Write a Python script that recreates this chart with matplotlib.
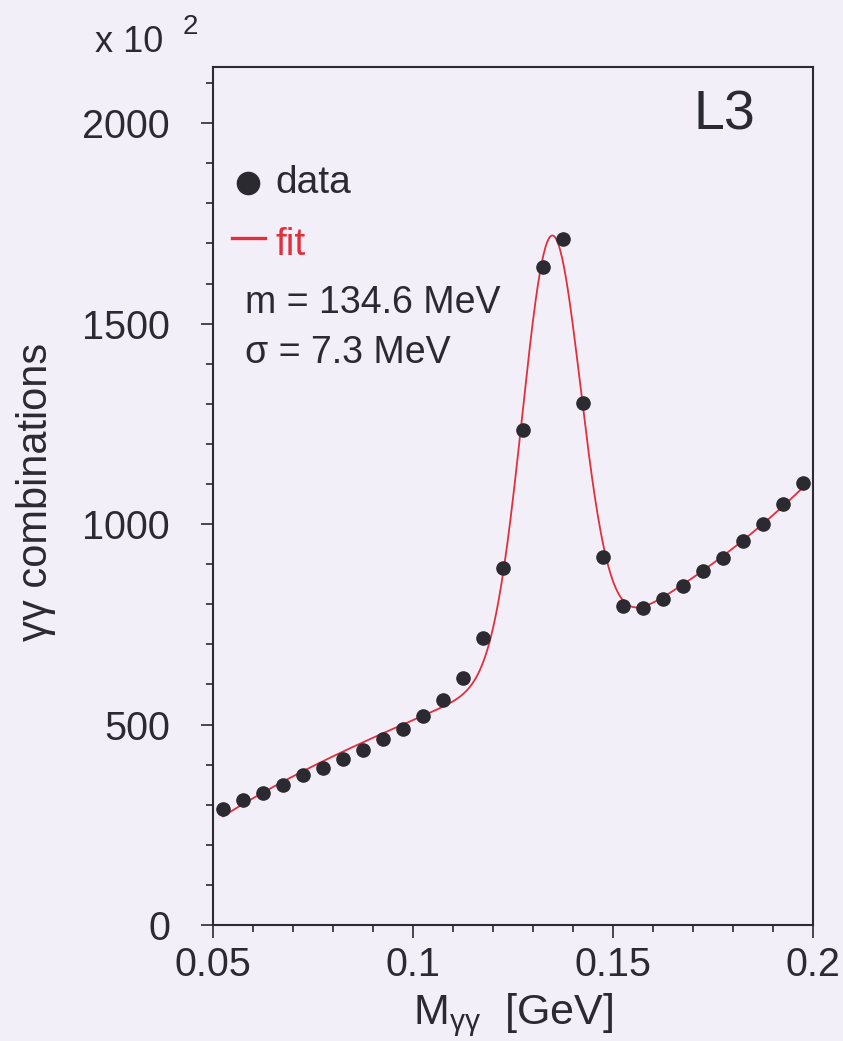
import numpy as np
import matplotlib
matplotlib.use("Agg")
import matplotlib.pyplot as plt
from matplotlib.lines import Line2D
from matplotlib.ticker import MultipleLocator, FixedLocator, FixedFormatter

# Diphoton invariant mass spectrum (5 MeV bins), counts in units of 10^2
mass_gev = [0.0525, 0.0575, 0.0625, 0.0675, 0.0725, 0.0775, 0.0825, 0.0875,
            0.0925, 0.0975, 0.1025, 0.1075, 0.1125, 0.1175, 0.1225, 0.1275,
            0.1325, 0.1375, 0.1425, 0.1475, 0.1525, 0.1575, 0.1625, 0.1675,
            0.1725, 0.1775, 0.1825, 0.1875, 0.1925, 0.1975]
counts = [290, 312, 330, 348, 375, 392, 415, 437, 465, 490,
          522, 562, 617, 717, 890, 1235, 1640, 1710, 1302, 918,
          795, 790, 812, 845, 882, 915, 957, 1000, 1050, 1102]

# Fitted peak parameters (GeV)
peak_mass = 0.1346
peak_sigma = 0.0073

x_ticks = [0.05, 0.1, 0.15, 0.2]
x_tick_labels = ["0.05", "0.1", "0.15", "0.2"]
y_ticks = [0, 500, 1000, 1500, 2000]
y_tick_labels = ["0", "500", "1000", "1500", "2000"]

FONT = "Liberation Sans"
BG = "#f3eff9"
INK = "#2b2a30"
RED = "#e0303c"

plt.rcParams["font.family"] = [FONT, "DejaVu Sans"]
plt.rcParams["mathtext.fontset"] = "custom"
plt.rcParams["mathtext.rm"] = FONT

W, H = 843, 1041
fig = plt.figure(figsize=(W / 100, H / 100), dpi=100, facecolor=BG)
ax = fig.add_axes([213 / W, (H - 925) / H, 600 / W, 858 / H], facecolor=BG)

# Fit: Gaussian with fixed mass/width on a cubic background (linear least squares)
x = np.asarray(mass_gev)
y = np.asarray(counts, dtype=float)
u = x - 0.125
gauss = lambda t: np.exp(-0.5 * ((t - peak_mass) / peak_sigma) ** 2)
A = np.column_stack([np.ones_like(u), u, u ** 2, u ** 3, gauss(x)])
coef, *_ = np.linalg.lstsq(A, y, rcond=None)
xf = np.linspace(x[0], x[-1], 600)
uf = xf - 0.125
yf = coef[0] + coef[1] * uf + coef[2] * uf ** 2 + coef[3] * uf ** 3 + coef[4] * gauss(xf)

ax.plot(xf, yf, color=RED, lw=1.3, zorder=2)
ax.plot(x, y, "o", color=INK, ms=9.5, mec=INK, zorder=3)

ax.set_xlim(0.05, 0.2)
ax.set_ylim(0, 2140)

ax.xaxis.set_major_locator(FixedLocator(x_ticks))
ax.xaxis.set_major_formatter(FixedFormatter(x_tick_labels))
ax.xaxis.set_minor_locator(MultipleLocator(0.01))
ax.yaxis.set_major_locator(FixedLocator(y_ticks))
ax.yaxis.set_major_formatter(FixedFormatter(y_tick_labels))
ax.yaxis.set_minor_locator(MultipleLocator(100))

for s in ax.spines.values():
    s.set_color(INK)
    s.set_linewidth(1.5)
ax.tick_params(which="both", direction="out", color=INK, width=1.2,
               labelcolor=INK, labelsize=28.5)
ax.tick_params(which="major", length=9)
ax.tick_params(which="minor", length=5)
ax.tick_params(axis="y", which="major", pad=22)
ax.tick_params(axis="x", which="major", pad=6)

ax.set_ylabel("γγ combinations", fontsize=30, color=INK)
ax.yaxis.set_label_coords(-0.262, 0.505)
ax.set_xlabel(r"M$_\mathregular{γγ}$  [GeV]", fontsize=31, color=INK)
ax.xaxis.set_label_coords(0.5, -0.077)

# Exponent of the y axis
fig.text(95 / W, 1 - 52 / H, "x 10", fontsize=26, color=INK, va="baseline")
fig.text(183 / W, 1 - 34 / H, "2", fontsize=20, color=INK, va="baseline")

# Experiment tag
fig.text(755 / W, 1 - 130 / H, "L3", fontsize=40, color=INK, ha="right", va="baseline")

# Legend and fit results
fig.add_artist(Line2D([248 / W], [1 - 183 / H], marker="o", ms=16, color=INK,
                      transform=fig.transFigure))
fig.text(275 / W, 1 - 193 / H, "data", fontsize=28, color=INK, va="baseline")
fig.add_artist(Line2D([232 / W, 265 / W], [1 - 238 / H, 1 - 238 / H], color=RED,
                      lw=2.4, transform=fig.transFigure))
fig.text(275 / W, 1 - 255 / H, "fit", fontsize=28, color=RED, va="baseline")
fig.text(245 / W, 1 - 313 / H, "m = 134.6 MeV", fontsize=27, color=INK, va="baseline")
fig.text(245 / W, 1 - 363 / H, "σ = 7.3 MeV", fontsize=27, color=INK, va="baseline")

fig.savefig("out.png", dpi=100, facecolor=BG)
